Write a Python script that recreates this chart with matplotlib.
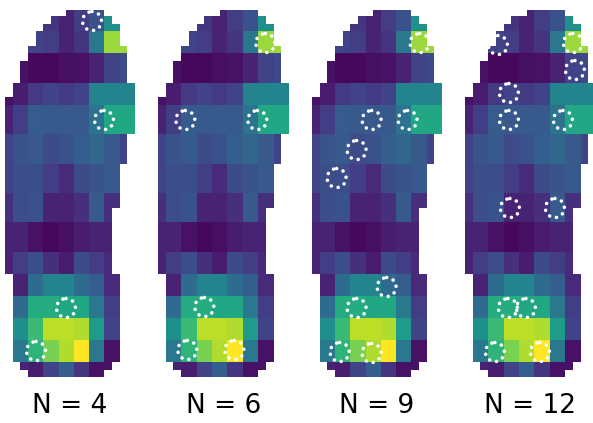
import numpy as np
import matplotlib
matplotlib.use("Agg")
import matplotlib.pyplot as plt
from matplotlib.patches import Circle


# =========================
# Insole pressure map (coarse cells, viridis scale 0..1)
# =========================
# rows of coarse cells from toe to heel, columns from medial to lateral side
pressure = np.array([
    [0.10, 0.10, 0.15, 0.15, 0.10, 0.18, 0.25, 0.50, 0.50],
    [0.10, 0.10, 0.20, 0.18, 0.10, 0.15, 0.40, 0.85, 0.85],
    [0.05, 0.05, 0.02, 0.02, 0.04, 0.05, 0.10, 0.20, 0.22],
    [0.05, 0.08, 0.17, 0.20, 0.17, 0.20, 0.45, 0.45, 0.45],
    [0.10, 0.18, 0.29, 0.28, 0.28, 0.28, 0.38, 0.60, 0.60],
    [0.20, 0.26, 0.28, 0.23, 0.25, 0.30, 0.33, 0.28, 0.20],
    [0.20, 0.24, 0.24, 0.18, 0.12, 0.23, 0.26, 0.28, 0.18],
    [0.14, 0.24, 0.25, 0.10, 0.10, 0.14, 0.28, 0.14, 0.10],
    [0.10, 0.10, 0.05, 0.02, 0.04, 0.08, 0.10, 0.10, 0.10],
    [0.10, 0.18, 0.24, 0.14, 0.08, 0.23, 0.18, 0.12, 0.10],
    [0.10, 0.10, 0.35, 0.45, 0.45, 0.35, 0.30, 0.12, 0.10],
    [0.10, 0.35, 0.62, 0.62, 0.60, 0.60, 0.40, 0.18, 0.10],
    [0.10, 0.50, 0.68, 0.90, 0.90, 0.88, 0.55, 0.20, 0.10],
    [0.10, 0.40, 0.65, 0.80, 0.88, 1.00, 0.40, 0.05, 0.10],
    [0.10, 0.10, 0.08, 0.20, 0.30, 0.15, 0.05, 0.05, 0.10],
])
# size of each coarse cell in fine grid units
row_units = [3, 3, 4, 3, 4, 4, 4, 4, 4, 3, 3, 3, 3, 3, 2]
col_units = [1, 2, 2, 2, 2, 2, 2, 2, 2]

# insole outline on the fine grid: (number of rows, first column, end column)
outline = [
    (1, 8, 13), (1, 6, 14), (1, 5, 15), (2, 4, 15), (2, 3, 16),
    (3, 2, 16), (2, 1, 17), (5, 0, 17), (4, 0, 16), (6, 0, 15),
    (9, 0, 14), (12, 1, 15), (1, 2, 14), (1, 3, 13),
]

# sensor positions (x, y) in insole coordinates, 0..130 wide, 0..367 long
sensor_counts = [4, 6, 9, 12]
sensors_4 = [(87, 11), (99, 110), (61, 298), (31, 341)]
sensors_6 = [(107, 33), (27, 110), (99, 110), (46, 297), (29, 340), (76, 340)]
sensors_9 = [(108, 33), (60, 110), (96, 110), (45, 140), (25, 168),
             (75, 277), (45, 298), (28, 342), (60, 343)]
sensors_12 = [(33, 35), (108, 33), (110, 60), (44, 83), (44, 110), (98, 110),
              (45, 198), (90, 198), (43, 298), (61, 298), (30, 342), (75, 342)]
sensor_sets = [sensors_4, sensors_6, sensors_9, sensors_12]

insole_w = 130
insole_h = 367


def build_map():
    fine = np.repeat(np.repeat(pressure, row_units, axis=0), col_units, axis=1)
    mask = np.ones_like(fine, dtype=bool)
    r = 0
    for n, left, right in outline:
        mask[r:r + n, left:right] = False
        r += n
    return np.ma.masked_array(fine, mask=mask)


def main():
    W, H = 593, 423
    fig = plt.figure(figsize=(W / 100, H / 100), dpi=100)
    img = build_map()

    cmap = plt.get_cmap("viridis").copy()
    cmap.set_bad(alpha=0)

    for i, (n, sensors) in enumerate(zip(sensor_counts, sensor_sets)):
        x0 = 5 + 153.3 * i
        ax = fig.add_axes([x0 / W, (H - 377) / H, insole_w / W, insole_h / H])
        ax.imshow(img, cmap=cmap, vmin=0, vmax=1, interpolation="nearest",
                  extent=(0, insole_w, insole_h, 0), aspect="auto")
        for sx, sy in sensors:
            ax.add_patch(Circle((sx, sy), radius=9.5, fill=False,
                                edgecolor="white", linewidth=2.6,
                                linestyle=(0, (0.01, 1.95)),
                                capstyle="round", zorder=3))
        ax.set_xlim(0, insole_w)
        ax.set_ylim(insole_h, 0)
        ax.axis("off")

        fig.text((x0 + insole_w / 2) / W, 1 - 406 / H, f"N = {n}",
                 ha="center", va="center", fontsize=19)

    fig.savefig("out.png", dpi=100)


if __name__ == "__main__":
    main()
